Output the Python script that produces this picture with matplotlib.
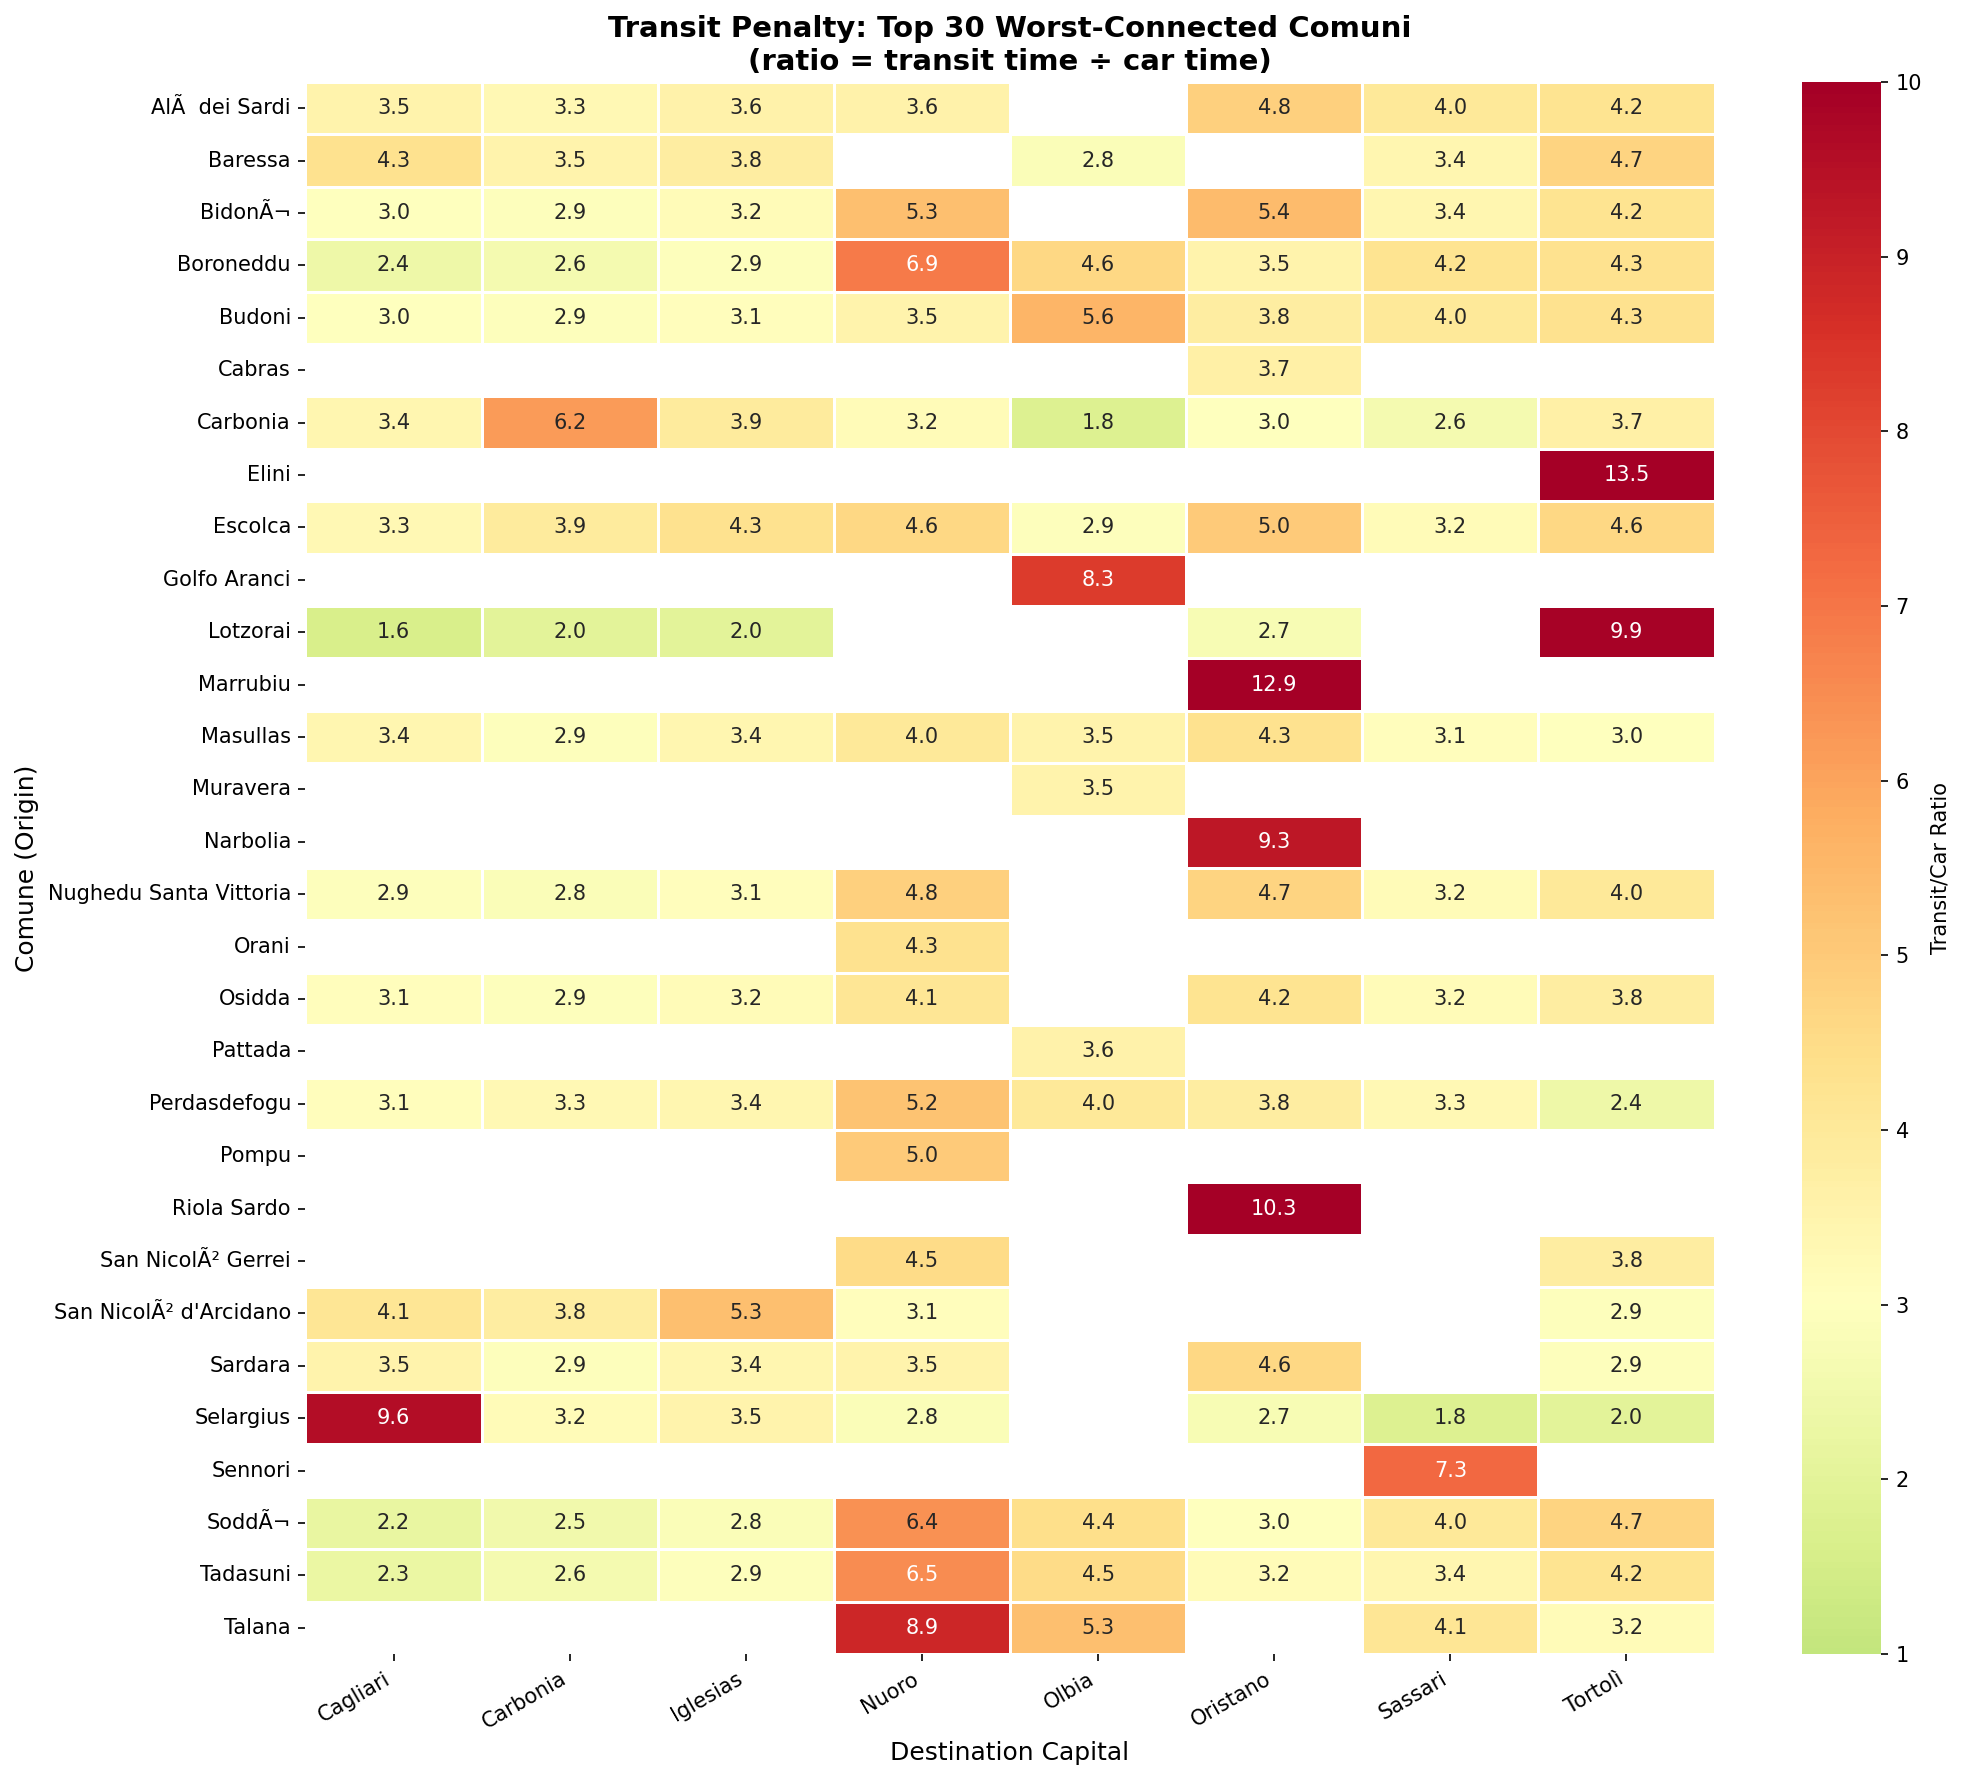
"""Transit penalty heatmap for the worst-connected comuni."""
import matplotlib

matplotlib.use("Agg")
import matplotlib.pyplot as plt
import numpy as np
import pandas as pd
import seaborn as sns

N = np.nan

COMUNI = [
    "AlÃ\xa0 dei Sardi", "Baressa", "BidonÃ¬", "Boroneddu", "Budoni", "Cabras",
    "Carbonia", "Elini", "Escolca", "Golfo Aranci", "Lotzorai", "Marrubiu",
    "Masullas", "Muravera", "Narbolia", "Nughedu Santa Vittoria", "Orani",
    "Osidda", "Pattada", "Perdasdefogu", "Pompu", "Riola Sardo",
    "San NicolÃ² Gerrei", "San NicolÃ² d'Arcidano", "Sardara", "Selargius",
    "Sennori", "SoddÃ¬", "Tadasuni", "Talana",
]
CAPITALS = ["Cagliari", "Carbonia", "Iglesias", "Nuoro", "Olbia", "Oristano", "Sassari", "Tortolì"]

cagliari = [3.5, 4.3, 3.0, 2.4, 3.0, N, 3.4, N, 3.3, N, 1.6, N, 3.4, N, N, 2.9, N, 3.1, N, 3.1, N, N, N, 4.1, 3.5, 9.6, N, 2.2, 2.3, N]
carbonia = [3.3, 3.5, 2.9, 2.6, 2.9, N, 6.2, N, 3.9, N, 2.0, N, 2.9, N, N, 2.8, N, 2.9, N, 3.3, N, N, N, 3.8, 2.9, 3.2, N, 2.5, 2.6, N]
iglesias = [3.6, 3.8, 3.2, 2.9, 3.1, N, 3.9, N, 4.3, N, 2.0, N, 3.4, N, N, 3.1, N, 3.2, N, 3.4, N, N, N, 5.3, 3.4, 3.5, N, 2.8, 2.9, N]
nuoro = [3.6, N, 5.3, 6.9, 3.5, N, 3.2, N, 4.6, N, N, N, 4.0, N, N, 4.8, 4.3, 4.1, N, 5.2, 5.0, N, 4.5, 3.1, 3.5, 2.8, N, 6.4, 6.5, 8.9]
olbia = [N, 2.8, N, 4.6, 5.6, N, 1.8, N, 2.9, 8.3, N, N, 3.5, 3.5, N, N, N, N, 3.6, 4.0, N, N, N, N, N, N, N, 4.4, 4.5, 5.3]
oristano = [4.8, N, 5.4, 3.5, 3.8, 3.7, 3.0, N, 5.0, N, 2.7, 12.9, 4.3, N, 9.3, 4.7, N, 4.2, N, 3.8, N, 10.3, N, N, 4.6, 2.7, N, 3.0, 3.2, N]
sassari = [4.0, 3.4, 3.4, 4.2, 4.0, N, 2.6, N, 3.2, N, N, N, 3.1, N, N, 3.2, N, 3.2, N, 3.3, N, N, N, N, N, 1.8, 7.3, 4.0, 3.4, 4.1]
tortoli = [4.2, 4.7, 4.2, 4.3, 4.3, N, 3.7, 13.5, 4.6, N, 9.9, N, 3.0, N, N, 4.0, N, 3.8, N, 2.4, N, N, 3.8, 2.9, 2.9, 2.0, N, 4.7, 4.2, 3.2]

ratios = pd.DataFrame(
    np.array([cagliari, carbonia, iglesias, nuoro, olbia, oristano, sassari, tortoli]).T,
    index=COMUNI,
    columns=CAPITALS,
)

fig = plt.figure(figsize=(13.1, 11.86))
ax = fig.add_axes([0.15547, 0.07026, 0.71705, 0.88364])
cax = fig.add_axes([0.91705, 0.07026, 0.0402, 0.88364])
sns.heatmap(
    ratios,
    annot=True,
    fmt=".1f",
    cmap="RdYlGn_r",
    center=3,
    vmin=1,
    vmax=10,
    linewidths=1.2,
    linecolor="white",
    cbar_ax=cax,
    cbar_kws={"label": "Transit/Car Ratio"},
    ax=ax,
)
ax.set_title(
    "Transit Penalty: Top 30 Worst-Connected Comuni\n(ratio = transit time ÷ car time)",
    fontsize=14,
    fontweight="bold",
)
ax.set_xlabel("Destination Capital", fontsize=12)
ax.set_ylabel("Comune (Origin)", fontsize=12)
plt.setp(ax.get_xticklabels(), rotation=30, ha="right")
ax.tick_params(axis="y", rotation=0)
fig.savefig("out.png", dpi=150)
plt.close(fig)
